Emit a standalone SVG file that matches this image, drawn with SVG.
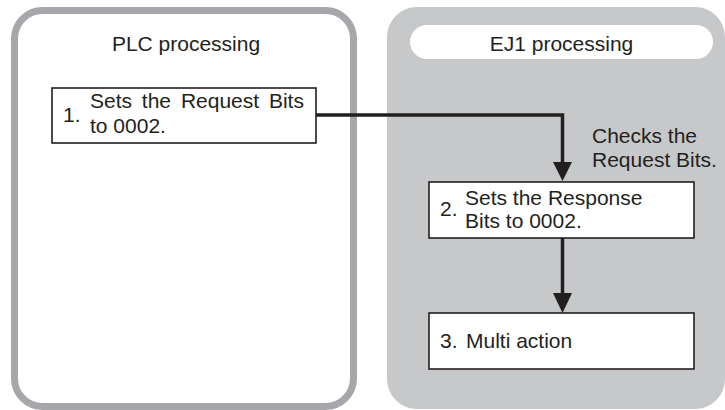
<svg xmlns="http://www.w3.org/2000/svg" width="725" height="410" viewBox="0 0 725 410">
<style>
  text { font-family: "Liberation Sans", Arial, sans-serif; font-size: 21px; fill: #231f20; }
  .box { fill: #ffffff; stroke: #231f20; stroke-width: 1.6; }
  .conn { fill: none; stroke: #231f20; stroke-width: 3.5; }
  .head { fill: #231f20; }
</style>
<rect width="725" height="410" fill="#ffffff"/>
<g id="plc-panel">
  <rect x="14.5" y="10.5" width="339" height="396" rx="28" ry="28" fill="#ffffff" stroke="#a6a7aa" stroke-width="7"/>
  <text x="186" y="51" text-anchor="middle">PLC processing</text>
</g>
<g id="ej1-panel">
  <rect x="387" y="7" width="338" height="402" rx="30" ry="30" fill="#c7c8ca"/>
  <rect x="410" y="25" width="303" height="34" rx="17" ry="17" fill="#ffffff"/>
  <text x="561.5" y="51" text-anchor="middle">EJ1 processing</text>
</g>
<g id="connectors">
  <polyline class="conn" points="316,115 562.5,115 562.5,164"/>
  <polygon class="head" points="553,162 572,162 562.5,181"/>
  <line class="conn" x1="562.5" y1="238" x2="562.5" y2="295"/>
  <polygon class="head" points="553,293 572,293 562.5,313"/>
  <text x="592" y="143">Checks the</text>
  <text x="592" y="167">Request Bits.</text>
</g>
<g id="node1">
  <rect class="box" x="52" y="88" width="264" height="55"/>
  <text x="63" y="122">1.</text>
  <text x="90" y="108" word-spacing="4">Sets the Request Bits</text>
  <text x="90" y="133">to 0002.</text>
</g>
<g id="node2">
  <rect class="box" x="429" y="182" width="265" height="56"/>
  <text x="440" y="216">2.</text>
  <text x="465" y="205">Sets the Response</text>
  <text x="465" y="228">Bits to 0002.</text>
</g>
<g id="node3">
  <rect class="box" x="429" y="313" width="265" height="56"/>
  <text x="440" y="348">3.</text>
  <text x="466" y="348">Multi action</text>
</g>
</svg>
